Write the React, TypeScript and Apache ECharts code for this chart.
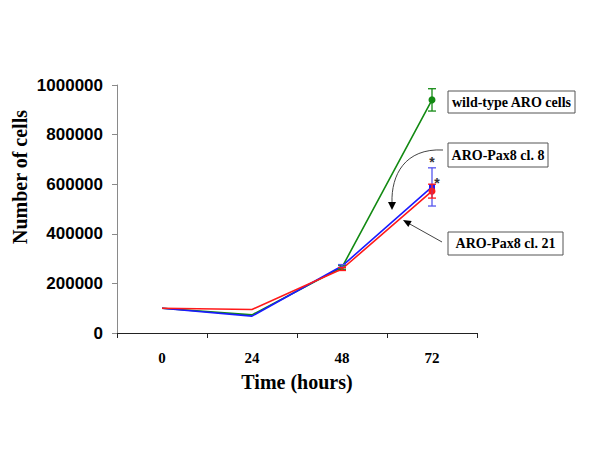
import React, { useEffect, useRef } from "react";
import * as echarts from "echarts";

const categories = ["0", "24", "48", "72"];
const wildType = [100000, 73000, 265000, 940000];
const pax8cl21 = [100000, 95000, 258000, 572000];
const pax8cl8 = [100000, 68000, 270000, 589000];
const wildTypeErr = [0, 4000, 8000, 45000];
const cl21Err = [0, 3000, 6000, 28000];
const cl8Err = [0, 3000, 6000, 77000];
const yTicks = [0, 200000, 400000, 600000, 800000, 1000000];

const GREEN = "#138a13";
const RED = "#ff1a1a";
const BLUE = "#1a1aff";

function errSeries(name: string, vals: number[], errs: number[], color: string) {
  return {
    type: "custom",
    name,
    z: 5,
    data: vals.map((v, i) => [i, v - errs[i], v + errs[i]]),
    renderItem: (params: any, api: any) => {
      const x = api.value(0);
      const lo = api.coord([x, api.value(1)]);
      const hi = api.coord([x, api.value(2)]);
      const w = 4;
      const children: any[] = [];
      if (Math.abs(lo[1] - hi[1]) > 2) {
        children.push(
          { type: "line", shape: { x1: lo[0], y1: lo[1], x2: hi[0], y2: hi[1] }, style: { stroke: color, lineWidth: 1.3 } },
          { type: "line", shape: { x1: lo[0] - w, y1: lo[1], x2: lo[0] + w, y2: lo[1] }, style: { stroke: color, lineWidth: 1.3 } },
          { type: "line", shape: { x1: hi[0] - w, y1: hi[1], x2: hi[0] + w, y2: hi[1] }, style: { stroke: color, lineWidth: 1.3 } }
        );
      }
      return { type: "group", children };
    },
  };
}

export default function App() {
  const ref = useRef<HTMLDivElement>(null);
  useEffect(() => {
    const chart = echarts.init(ref.current!, undefined, { renderer: "svg" });
    const lineBase = (name: string, data: number[], color: string, symbol: string, size: number) => ({
      type: "line",
      name,
      data,
      symbol,
      symbolSize: (v: any, p: any) => (p.dataIndex === 3 ? size : p.dataIndex === 2 ? 3 : 0),
      showSymbol: true,
      itemStyle: { color },
      lineStyle: { color, width: 1.6 },
      z: 3,
    });
    const option: any = {
      animation: false,
      backgroundColor: "#ffffff",
      grid: { left: 117, right: 123, top: 85, bottom: 117 },
      xAxis: {
        type: "category",
        data: categories,
        boundaryGap: true,
        axisLine: { lineStyle: { color: "#222", width: 1 } },
        axisTick: { show: true, length: 5, inside: false, lineStyle: { color: "#222" } },
        axisLabel: { fontFamily: "Liberation Serif", fontWeight: "bold", fontSize: 15, color: "#000", margin: 17 },
        name: "Time (hours)",
        nameLocation: "middle",
        nameGap: 39,
        nameMoveOverlap: false,
        nameTextStyle: { fontFamily: "Liberation Serif", fontWeight: "bold", fontSize: 20, color: "#000" },
      },
      yAxis: {
        type: "value",
        min: yTicks[0],
        max: yTicks[yTicks.length - 1],
        interval: 200000,
        splitLine: { show: false },
        axisLine: { show: true, lineStyle: { color: "#8a8a8a", width: 1 } },
        axisTick: { show: true, length: 5, lineStyle: { color: "#8a8a8a" } },
        axisLabel: {
          fontFamily: "Liberation Sans",
          fontWeight: "bold",
          fontSize: 17,
          color: "#000",
          margin: 14,
          formatter: (v: number) => String(v),
        },
      },
      series: [
        lineBase("wild-type ARO cells", wildType, GREEN, "circle", 7),
        lineBase("ARO-Pax8 cl. 8", pax8cl8, BLUE, "rect", 6),
        lineBase("ARO-Pax8 cl. 21", pax8cl21, RED, "circle", 7),
        errSeries("wt err", wildType, wildTypeErr, GREEN),
        errSeries("cl8 err", pax8cl8, cl8Err, "#5555ee"),
        errSeries("cl21 err", pax8cl21, cl21Err, RED),
        {
          type: "custom",
          name: "stars",
          z: 6,
          data: [
            [3, pax8cl8[3] + cl8Err[3], 0, -6],
            [3, pax8cl21[3], 5, -8],
          ],
          renderItem: (params: any, api: any) => {
            const p = api.coord([api.value(0), api.value(1)]);
            return {
              type: "text",
              x: p[0] + api.value(2),
              y: p[1] + api.value(3),
              style: {
                text: "*",
                fill: "#333",
                font: "bold 14px Liberation Sans",
                align: "center",
                verticalAlign: "middle",
              },
            };
          },
        },
      ],
      graphic: [
        {
          type: "text",
          x: 20,
          y: 177,
          rotation: Math.PI / 2,
          style: {
            text: "Number of cells",
            font: "bold 20px Liberation Serif",
            fill: "#000",
            align: "center",
            verticalAlign: "middle",
          },
        },
        {
          type: "group",
          children: [
            { type: "rect", shape: { x: 448, y: 91, width: 127, height: 22 }, style: { fill: "#fff", stroke: "#555", lineWidth: 1 } },
            { type: "text", x: 511.5, y: 102, style: { text: "wild-type ARO cells", font: "bold 14px Liberation Serif", fill: "#000", align: "center", verticalAlign: "middle" } },
            { type: "rect", shape: { x: 448, y: 143, width: 100, height: 24 }, style: { fill: "#fff", stroke: "#555", lineWidth: 1 } },
            { type: "text", x: 498, y: 155, style: { text: "ARO-Pax8 cl. 8", font: "bold 14px Liberation Serif", fill: "#000", align: "center", verticalAlign: "middle" } },
            { type: "rect", shape: { x: 448, y: 232, width: 115, height: 23 }, style: { fill: "#fff", stroke: "#555", lineWidth: 1 } },
            { type: "text", x: 505.5, y: 243.5, style: { text: "ARO-Pax8 cl. 21", font: "bold 14px Liberation Serif", fill: "#000", align: "center", verticalAlign: "middle" } },
            {
              type: "bezierCurve",
              shape: { x1: 443, y1: 150, cpx1: 405, cpy1: 148, cpx2: 391, cpy2: 175, x2: 392, y2: 203 },
              style: { stroke: "#444", lineWidth: 1, fill: "none" },
            },
            { type: "polygon", shape: { points: [[388, 202], [396, 202], [392, 210]] }, style: { fill: "#000" } },
            { type: "line", shape: { x1: 442, y1: 242, x2: 408, y2: 223 }, style: { stroke: "#444", lineWidth: 1 } },
            { type: "polygon", shape: { points: [[403, 220], [411.7, 220.9], [408.3, 227.0]] }, style: { fill: "#000" } },
          ],
        },
      ],
    };
    chart.setOption(option);
    return () => chart.dispose();
  }, []);
  return <div ref={ref} style={{ width: 600, height: 450, position: "absolute", left: 0, top: 0 }} />;
}
